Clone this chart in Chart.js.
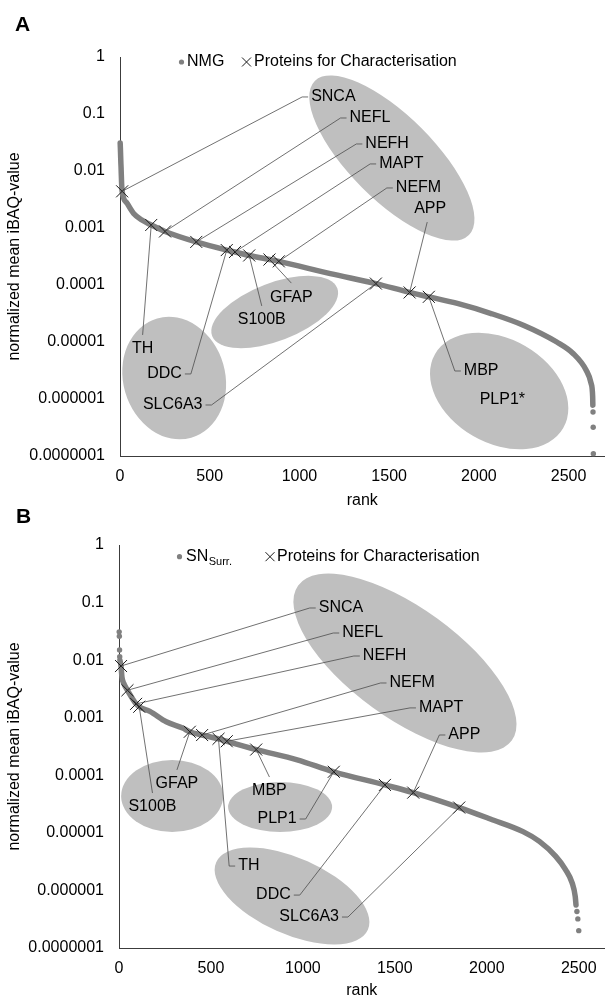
<!DOCTYPE html>
<html>
<head>
<meta charset="utf-8">
<script src="https://cdn.jsdelivr.net/npm/chart.js@4.4.1/dist/chart.umd.min.js"></script>
<style>
  html, body { margin: 0; padding: 0; background: #fff; }
  body { width: 614px; height: 998px; position: relative; overflow: hidden; }
  .painel { position: absolute; left: 0; width: 614px; height: 512px; }
</style>
</head>
<body>
<div class="painel" style="top:0"><canvas id="graficoA"></canvas></div>
<div class="painel" style="top:488px"><canvas id="graficoB"></canvas></div>
<script>
// fonte parecida com arial
var fonte = "'Liberation Sans', Arial, sans-serif";

// ticks dos eixos
var ticksRank = [0, 500, 1000, 1500, 2000, 2500];
var ticksValor = [1, 0.1, 0.01, 0.001, 0.0001, 0.00001, 0.000001, 0.0000001];

// ===== painel A (NMG) =====
// curva (rank, valor)
var rankA = [1, 2, 3, 4, 5, 6, 7, 8, 9, 12, 40, 76, 122, 174, 251, 425, 595, 641, 720, 833, 885,
  1172, 1426, 1614, 1721, 1885, 2068, 2251, 2434, 2525, 2598, 2625, 2634, 2635];
var valorA = [0.031, 0.026, 0.021, 0.0166, 0.0135, 0.0115, 0.0091, 0.0074, 0.006, 0.0044, 0.0027,
  0.0018, 0.00138, 0.00113, 0.00087, 0.00057, 0.00041, 0.00038, 0.00033, 0.00028, 0.00026,
  0.000158, 0.000106, 0.000074, 0.000062, 0.000047, 0.0000316, 0.0000195, 0.00001, 0.0000063,
  0.0000032, 0.0000019, 0.0000011, 0.00000078];
// pontinhos soltos no fim
var soltosRankA = [2636, 2637, 2638];
var soltosValorA = [0.00000059, 0.00000032, 0.00000011];
// proteinas marcadas com x
var marcadorNomeA = ['SNCA', 'TH', 'NEFL', 'NEFH', 'DDC', 'MAPT', 'S100B', 'GFAP', 'NEFM', 'SLC6A3', 'APP', 'MBP'];
var marcadorRankA = [12, 174, 251, 425, 595, 641, 720, 833, 885, 1426, 1614, 1721];
var marcadorValorA = [0.0044, 0.00113, 0.00087, 0.00057, 0.00041, 0.00038, 0.00033, 0.00028, 0.00026,
  0.000106, 0.000074, 0.000062];

// ===== painel B (SN Surr.) =====
var rankB = [5, 11, 16, 25, 46, 93, 110, 168, 257, 346, 385, 452, 541, 586, 746, 969, 1168, 1446,
  1600, 1850, 2019, 2197, 2286, 2375, 2428, 2464, 2481, 2485];
var valorB = [0.01, 0.0079, 0.0051, 0.004, 0.003, 0.00174, 0.00155, 0.00129, 0.00085, 0.00066,
  0.00057, 0.0005, 0.00043, 0.00039, 0.00028, 0.000186, 0.000115, 0.000068, 0.00005, 0.0000275,
  0.0000174, 0.0000105, 0.0000071, 0.0000039, 0.0000023, 0.00000135, 0.00000078, 0.00000056];
var soltosRankB = [1, 2, 3, 4, 2490, 2495, 2500];
var soltosValorB = [0.031, 0.026, 0.015, 0.0115, 0.00000043, 0.00000032, 0.0000002];
var marcadorNomeB = ['SNCA', 'NEFL', 'NEFH', 'S100B', 'GFAP', 'NEFM', 'TH', 'MAPT', 'MBP', 'PLP1', 'DDC', 'APP', 'SLC6A3'];
var marcadorRankB = [11, 46, 93, 110, 385, 452, 541, 586, 746, 1168, 1446, 1600, 1850];
var marcadorValorB = [0.0079, 0.003, 0.00174, 0.00155, 0.00057, 0.0005, 0.00043, 0.00039, 0.00028,
  0.000115, 0.000068, 0.00005, 0.0000275];

// rotulos: lado d = texto a direita, e = esquerda, b = texto embaixo, t = texto em cima
var rotulosA = [
  { nome: 'SNCA', rank: 1015, valor: 0.199, lado: 'd' },
  { nome: 'NEFL', rank: 1229, valor: 0.0851, lado: 'd' },
  { nome: 'NEFH', rank: 1317, valor: 0.0298, lado: 'd' },
  { nome: 'MAPT', rank: 1394, valor: 0.0133, lado: 'd' },
  { nome: 'NEFM', rank: 1487, valor: 0.00504, lado: 'd' },
  { nome: 'APP', rank: 1712, valor: 0.00127, lado: 't' },
  { nome: 'TH', rank: 126, valor: 0.0000133, lado: 'b' },
  { nome: 'DDC', rank: 395, valor: 0.00000275, lado: 'e' },
  { nome: 'SLC6A3', rank: 510, valor: 0.000000785, lado: 'e' },
  { nome: 'GFAP', rank: 955, valor: 0.000108, lado: 'b' },
  { nome: 'S100B', rank: 790, valor: 0.0000429, lado: 'b' },
  { nome: 'MBP', rank: 1866, valor: 0.0000031, lado: 'd' },
  { nome: 'PLP1*', rank: 1954, valor: 0.00000096, lado: 'd' }
];
var rotulosB = [
  { nome: 'SNCA', rank: 1037, valor: 0.0805, lado: 'd' },
  { nome: 'NEFL', rank: 1165, valor: 0.0296, lado: 'd' },
  { nome: 'NEFH', rank: 1277, valor: 0.0118, lado: 'd' },
  { nome: 'NEFM', rank: 1422, valor: 0.00401, lado: 'd' },
  { nome: 'MAPT', rank: 1582, valor: 0.00148, lado: 'd' },
  { nome: 'APP', rank: 1742, valor: 0.000501, lado: 'd' },
  { nome: 'GFAP', rank: 315, valor: 0.000124, lado: 'b' },
  { nome: 'S100B', rank: 182, valor: 0.0000492, lado: 'b' },
  { nome: 'MBP', rank: 818, valor: 0.0000933, lado: 'b' },
  { nome: 'PLP1', rank: 1015, valor: 0.0000174, lado: 'e' },
  { nome: 'TH', rank: 599, valor: 0.00000265, lado: 'd' },
  { nome: 'DDC', rank: 983, valor: 0.00000083, lado: 'e' },
  { nome: 'SLC6A3', rank: 1245, valor: 0.000000345, lado: 'e' }
];

// elipses cinzas (centro em rank/valor, raios em px, angulo em graus)
var elipsesA = [
  { rank: 1515, valor: 0.0169, a: 109, b: 42, angulo: 45 },
  { rank: 302, valor: 0.00000233, a: 62, b: 51, angulo: 74 },
  { rank: 862, valor: 0.0000336, a: 67, b: 29, angulo: -21 },
  { rank: 2113, valor: 0.00000138, a: 74, b: 52, angulo: 30 }
];
var elipsesB = [
  { rank: 1555, valor: 0.00891, a: 132, b: 55, angulo: 36 },
  { rank: 289, valor: 0.0000437, a: 51, b: 36, angulo: 0 },
  { rank: 876, valor: 0.0000281, a: 52, b: 25, angulo: 0 },
  { rank: 941, valor: 0.0000008, a: 83, b: 38, angulo: 24 }
];

// junta rank e valor em pontos {x, y}
function juntaPontos(ranks, valores) {
  var pontos = [];
  for (var i = 0; i < ranks.length; i++) {
    pontos.push({ x: ranks[i], y: valores[i] });
  }
  return pontos;
}

// transforma lista de numeros em ticks do chart.js
function fazTicks(lista) {
  var t = [];
  for (var i = 0; i < lista.length; i++) t.push({ value: lista[i] });
  return t;
}

// formata 1, 0.1, 0.01 ... 0.0000001
function formataLog(v) {
  if (v >= 1) return '1';
  return v.toFixed(Math.round(-Math.log10(v)));
}

// plugin que desenha elipses, linhas, rotulos, legenda e letra
function fazAnotacoes(p) {
  return {
    id: 'anotacoes' + p.letra,
    beforeDatasetsDraw: function(chart) {
      var ctx = chart.ctx, sx = chart.scales.x, sy = chart.scales.y;
      ctx.save();
      ctx.fillStyle = '#bfbfbf';
      for (var i = 0; i < p.elipses.length; i++) {
        var e = p.elipses[i];
        ctx.beginPath();
        ctx.ellipse(sx.getPixelForValue(e.rank), sy.getPixelForValue(e.valor), e.a, e.b,
          e.angulo * Math.PI / 180, 0, 2 * Math.PI);
        ctx.fill();
      }
      ctx.restore();
    },
    afterDatasetsDraw: function(chart) {
      var ctx = chart.ctx, sx = chart.scales.x, sy = chart.scales.y;
      ctx.save();
      ctx.strokeStyle = '#4d4d4d';
      ctx.lineWidth = 0.8;
      ctx.font = '16px ' + fonte;
      ctx.fillStyle = '#000';
      ctx.textBaseline = 'middle';
      for (var i = 0; i < p.rotulos.length; i++) {
        var r = p.rotulos[i];
        var ex = sx.getPixelForValue(r.rank), ey = sy.getPixelForValue(r.valor);
        var k = p.marcadorNome.indexOf(r.nome);
        if (k >= 0) {
          ctx.beginPath();
          ctx.moveTo(sx.getPixelForValue(p.marcadorRank[k]), sy.getPixelForValue(p.marcadorValor[k]));
          ctx.lineTo(ex, ey);
          if (r.lado === 'd') ctx.lineTo(ex + 6, ey);
          if (r.lado === 'e') ctx.lineTo(ex - 6, ey);
          ctx.stroke();
        }
        if (r.lado === 'd') {
          ctx.textAlign = 'left'; ctx.fillText(r.nome, ex + 9, ey);
        } else if (r.lado === 'e') {
          ctx.textAlign = 'right'; ctx.fillText(r.nome, ex - 9, ey);
        } else if (r.lado === 'b') {
          ctx.textAlign = 'center'; ctx.fillText(r.nome, ex, ey + 14);
        } else {
          ctx.textAlign = 'center'; ctx.fillText(r.nome, ex + 3, ey - 13);
        }
      }
      ctx.restore();
    },
    afterDraw: function(chart) {
      var ctx = chart.ctx, L = p.legenda;
      ctx.save();
      // bolinha
      ctx.fillStyle = '#808080';
      ctx.beginPath();
      ctx.arc(L.ponto, L.y, 2.6, 0, 2 * Math.PI);
      ctx.fill();
      ctx.fillStyle = '#000';
      ctx.textAlign = 'left';
      ctx.textBaseline = 'middle';
      ctx.font = '16px ' + fonte;
      ctx.fillText(p.nome, L.xNome, L.y);
      if (p.sub) {
        var w = ctx.measureText(p.nome).width;
        ctx.font = '11px ' + fonte;
        ctx.fillText(p.sub, L.xNome + w + 0.5, L.y + 5);
        ctx.font = '16px ' + fonte;
      }
      // xis
      ctx.strokeStyle = '#1a1a1a';
      ctx.lineWidth = 1;
      ctx.beginPath();
      ctx.moveTo(L.xis - 4.5, L.y - 4.5); ctx.lineTo(L.xis + 4.5, L.y + 4.5);
      ctx.moveTo(L.xis - 4.5, L.y + 4.5); ctx.lineTo(L.xis + 4.5, L.y - 4.5);
      ctx.stroke();
      ctx.fillText(chart.data.datasets[0].label, L.xTexto, L.y);
      // letra do painel
      ctx.font = 'bold 21px ' + fonte;
      ctx.textBaseline = 'alphabetic';
      ctx.fillText(p.letra, L.letraX, L.letraY);
      ctx.restore();
    }
  };
}

function montaGrafico(idCanvas, p) {
  return new Chart(document.getElementById(idCanvas), {
    type: 'scatter',
    data: {
      datasets: [
        {
          label: 'Proteins for Characterisation',
          data: juntaPontos(p.marcadorRank, p.marcadorValor),
          pointStyle: 'crossRot', pointRadius: 8.5, pointHoverRadius: 8.5,
          borderColor: '#1a1a1a', pointBorderColor: '#1a1a1a', pointBorderWidth: 1,
          backgroundColor: 'transparent', order: 0, clip: false
        },
        {
          label: p.nome + ' (pontos)',
          data: juntaPontos(p.soltosRank, p.soltosValor),
          pointRadius: 2.7, pointHoverRadius: 2.7, backgroundColor: '#808080',
          borderWidth: 0, pointBorderWidth: 0, order: 1, clip: false
        },
        {
          label: p.nome,
          data: juntaPontos(p.rank, p.valor),
          showLine: true, pointRadius: 0, pointHoverRadius: 0,
          borderColor: '#808080', backgroundColor: '#808080', borderWidth: 5.5,
          cubicInterpolationMode: 'monotone', borderCapStyle: 'round', borderJoinStyle: 'round',
          order: 2, clip: false
        }
      ]
    },
    options: {
      responsive: true,
      maintainAspectRatio: false,
      animation: false,
      events: [],
      layout: { padding: { top: p.topo, left: 0, right: p.direita, bottom: 0 } },
      plugins: { legend: { display: false }, tooltip: { enabled: false } },
      scales: {
        x: {
          type: 'linear', min: 0, max: p.maxRank,
          afterBuildTicks: function(s) { s.ticks = fazTicks(ticksRank); },
          afterFit: function(s) { s.height = p.alturaX; },
          ticks: { padding: 11, color: '#000', autoSkip: false, maxRotation: 0,
            font: { family: fonte, size: 16 },
            callback: function(v) { return String(v); } },
          grid: { display: false, drawTicks: false },
          border: { display: true, color: '#3c3c3c', width: 1 },
          title: { display: true, text: 'rank', color: '#000', font: { family: fonte, size: 16 },
            padding: { top: 0, bottom: p.padRank } }
        },
        y: {
          type: 'logarithmic', min: 0.0000001, max: 1,
          afterBuildTicks: function(s) { s.ticks = fazTicks(ticksValor); },
          afterFit: function(s) { s.width = p.larguraY; },
          ticks: { padding: 15, color: '#000', autoSkip: false,
            font: { family: fonte, size: 16 },
            callback: function(v) { return formataLog(v); } },
          grid: { display: false, drawTicks: false },
          border: { display: true, color: '#3c3c3c', width: 1 },
          title: { display: true, text: 'normalized mean iBAQ-value', color: '#000',
            font: { family: fonte, size: 16 }, padding: { top: 5, bottom: 0 } }
        }
      }
    },
    plugins: [fazAnotacoes(p)]
  });
}

montaGrafico('graficoA', {
  letra: 'A', nome: 'NMG',
  rank: rankA, valor: valorA, soltosRank: soltosRankA, soltosValor: soltosValorA,
  marcadorNome: marcadorNomeA, marcadorRank: marcadorRankA, marcadorValor: marcadorValorA,
  rotulos: rotulosA, elipses: elipsesA,
  maxRank: 2700, topo: 57, direita: 2, alturaX: 56, larguraY: 120, padRank: 2,
  legenda: { ponto: 181.5, xNome: 187, xis: 246.5, xTexto: 254, y: 62, letraX: 15, letraY: 31 }
});

montaGrafico('graficoB', {
  letra: 'B', nome: 'SN', sub: 'Surr.',
  rank: rankB, valor: valorB, soltosRank: soltosRankB, soltosValor: soltosValorB,
  marcadorNome: marcadorNomeB, marcadorRank: marcadorRankB, marcadorValor: marcadorValorB,
  rotulos: rotulosB, elipses: elipsesB,
  maxRank: 2640, topo: 57, direita: 1, alturaX: 52, larguraY: 119, padRank: 0,
  legenda: { ponto: 179.5, xNome: 186, xis: 270, xTexto: 277, y: 68.7, letraX: 16, letraY: 35 }
});
</script>
</body>
</html>
